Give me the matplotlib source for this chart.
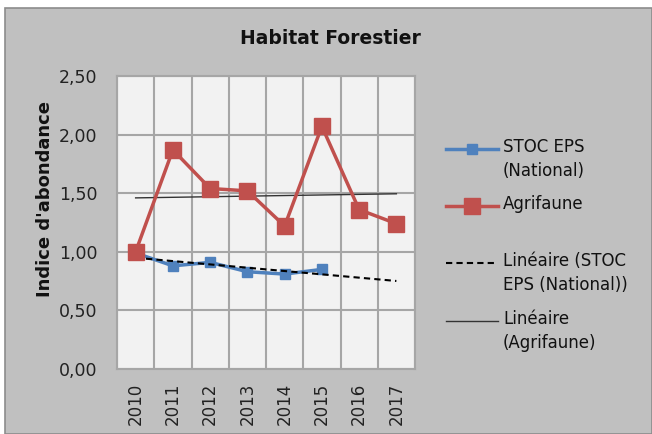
import numpy as np
import matplotlib
matplotlib.use("Agg")
from matplotlib import pyplot as plt
from matplotlib.lines import Line2D
from matplotlib.patches import Rectangle

years = ['2010', '2011', '2012', '2013', '2014', '2015', '2016', '2017']
stoc = [0.99, 0.88, 0.91, 0.83, 0.81, 0.85]
agrifaune = [1.00, 1.87, 1.54, 1.52, 1.22, 2.07, 1.36, 1.24]
yticks = [0.0, 0.5, 1.0, 1.5, 2.0, 2.5]

blue = '#4f81bd'
red = '#c0504d'
bg = '#c0c0c0'

W, H = 652, 434
fig = plt.figure(figsize=(W / 100, H / 100), dpi=100, facecolor='white')
fig.add_artist(Rectangle((5 / W, 0), 1 - 5 / W, 1 - 8 / H, transform=fig.transFigure,
                         facecolor=bg, edgecolor='#8c8c8c', linewidth=1.2, zorder=-10))

ax = fig.add_axes([117 / W, 1 - 369 / H, (415 - 117) / W, (369 - 76) / H])
ax.set_facecolor('#f2f2f2')

x = np.arange(len(years))
xs = np.arange(len(stoc))

# trend lines over the whole period
ps = np.polyfit(xs, stoc, 1)
pa = np.polyfit(x, agrifaune, 1)
ax.plot(x, np.polyval(ps, x), color='black', ls=(0, (3, 2)), lw=1.5, zorder=4)
ax.plot(x, np.polyval(pa, x), color='#333333', lw=1.0, zorder=4)

ax.plot(xs, stoc, color=blue, lw=2.5, marker='s', ms=7, zorder=3)
ax.plot(x, agrifaune, color=red, lw=2.5, marker='s', ms=11, zorder=5)

ax.set_xlim(-0.5, len(years) - 0.5)
ax.set_ylim(0, 2.5)
ax.set_yticks(yticks)
ax.yaxis.set_major_formatter(matplotlib.ticker.FuncFormatter(lambda v, p: ('%.2f' % v).replace('.', ',')))
ax.set_xticks(x)
ax.set_xticklabels(years, rotation=90)
ax.set_xticks(np.arange(len(years) + 1) - 0.5, minor=True)
ax.tick_params(axis='y', length=0, pad=14, labelsize=12.5, colors='#222222')
ax.tick_params(axis='x', which='both', length=0, pad=10, labelsize=12, colors='#222222')
ax.grid(True, which='major', axis='y', color='#a6a6a6', lw=1.5)
ax.grid(True, which='minor', axis='x', color='#a6a6a6', lw=1.5)
for s in ax.spines.values():
    s.set_color('#a6a6a6')
    s.set_linewidth(1.5)

fig.text(330 / W, 1 - 38 / H, 'Habitat Forestier', ha='center', va='center',
         fontsize=13.5, fontweight='bold', color='#111111')
fig.text(45 / W, 1 - 199 / H, "Indice d'abondance", ha='center', va='center',
         rotation=90, fontsize=13, fontweight='bold', color='#111111')

# legend drawn by hand so the handle sits on the first text line
entries = [
    (149, 'STOC EPS\n(National)', dict(color=blue, lw=2.5), 7),
    (206, 'Agrifaune', dict(color=red, lw=2.5), 11),
    (263, 'Linéaire (STOC\nEPS (National))', dict(color='black', lw=1.5, ls=(0, (3, 2))), 0),
    (321, 'Linéaire\n(Agrifaune)', dict(color='#333333', lw=1.0), 0),
]
for yy, lab, st, ms in entries:
    yf = 1 - yy / H
    fig.add_artist(Line2D([446 / W, 498 / W], [yf, yf], transform=fig.transFigure, **st))
    if ms:
        fig.add_artist(Line2D([472 / W], [yf], transform=fig.transFigure, ls='none',
                              marker='s', ms=ms, color=st['color']))
    fig.text(503 / W, yf + 11 / H, lab, ha='left', va='top', fontsize=12,
             color='#111111', linespacing=1.4)

fig.savefig('out.png', dpi=100, facecolor=fig.get_facecolor())
